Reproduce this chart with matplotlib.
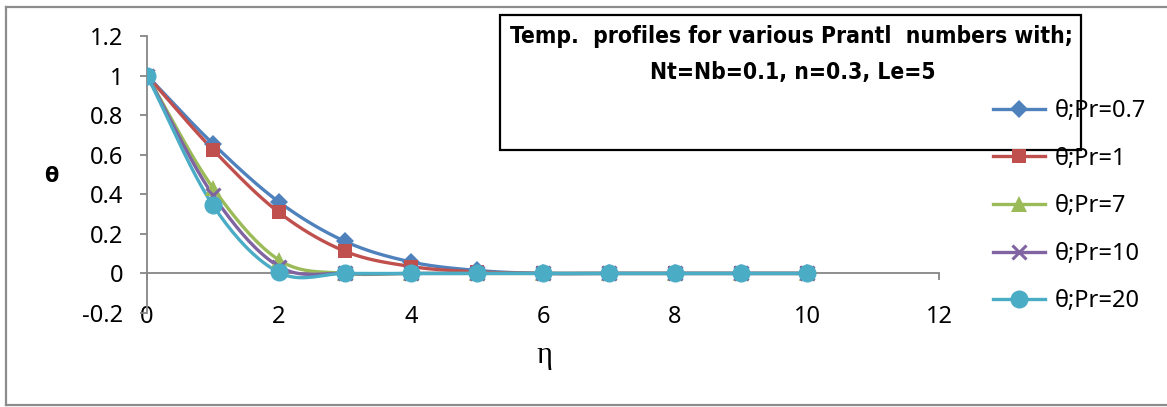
import numpy as np
import matplotlib
matplotlib.use("Agg")
import matplotlib.pyplot as plt
from matplotlib.patches import Rectangle
from matplotlib.lines import Line2D

# ---- data ----
eta = [0, 1, 2, 3, 4, 5, 6, 7, 8, 9, 10]
theta_pr07 = [1.0, 0.655, 0.361, 0.162, 0.058, 0.015, 0.0, 0.0, 0.0, 0.0, 0.0]
theta_pr1 = [1.0, 0.625, 0.308, 0.112, 0.035, 0.008, 0.0, 0.0, 0.0, 0.0, 0.0]
theta_pr7 = [1.0, 0.432, 0.068, 0.0, 0.0, 0.0, 0.0, 0.0, 0.0, 0.0, 0.0]
theta_pr10 = [1.0, 0.395, 0.035, 0.0, 0.0, 0.0, 0.0, 0.0, 0.0, 0.0, 0.0]
theta_pr20 = [1.0, 0.344, 0.005, 0.0, 0.0, 0.0, 0.0, 0.0, 0.0, 0.0, 0.0]
series_labels = ["θ;Pr=0.7", "θ;Pr=1", "θ;Pr=7", "θ;Pr=10", "θ;Pr=20"]
x_ticks = [0, 2, 4, 6, 8, 10, 12]
y_ticks = [-0.2, 0, 0.2, 0.4, 0.6, 0.8, 1.0, 1.2]
y_ticklabels = ["-0.2", "0", "0.2", "0.4", "0.6", "0.8", "1", "1.2"]
title_lines = ["Temp.  profiles for various Prantl  numbers with;",
               "Nt=Nb=0.1, n=0.3, Le=5"]

colors = ["#4F81BD", "#C0504D", "#9BBB59", "#8064A2", "#4BACC6"]
markers = ["D", "s", "^", "x", "o"]
msizes = [9.5, 10, 11, 10, 13]


def smooth(x, y, n=20):
    """Excel-style smoothed line (Catmull-Rom through the data points)."""
    x = np.asarray(x, float)
    y = np.asarray(y, float)
    px = np.concatenate([[2 * x[0] - x[1]], x, [2 * x[-1] - x[-2]]])
    py = np.concatenate([[2 * y[0] - y[1]], y, [2 * y[-1] - y[-2]]])
    xs, ys = [], []
    t = np.linspace(0, 1, n, endpoint=False)
    for i in range(1, len(px) - 2):
        for arr, out in ((px, xs), (py, ys)):
            p0, p1, p2, p3 = arr[i - 1], arr[i], arr[i + 1], arr[i + 2]
            m1 = (p2 - p0) / 2
            m2 = (p3 - p1) / 2
            h00 = 2 * t**3 - 3 * t**2 + 1
            h10 = t**3 - 2 * t**2 + t
            h01 = -2 * t**3 + 3 * t**2
            h11 = t**3 - t**2
            out.extend(h00 * p1 + h10 * m1 + h01 * p2 + h11 * m2)
    xs.append(x[-1])
    ys.append(y[-1])
    return np.array(xs), np.array(ys)


plt.rcParams['font.family'] = ['Noto Sans', 'DejaVu Sans']

W, H = 1167, 407
fig = plt.figure(figsize=(W / 100, H / 100), dpi=100)
ax = fig.add_axes([147 / W, 1 - 313 / H, (939 - 147) / W, (313 - 36) / H])

all_series = [theta_pr07, theta_pr1, theta_pr7, theta_pr10, theta_pr20]
handles = []
for ys, c, m, ms, lab in zip(all_series, colors, markers, msizes, series_labels):
    sx, sy = smooth(eta, ys)
    ax.plot(sx, sy, color=c, lw=2.4, solid_capstyle='round', zorder=3)
    mew = 2.2 if m == 'x' else 0
    ax.plot(eta, ys, linestyle='none', marker=m, markersize=ms, color=c,
            markeredgecolor=c, markeredgewidth=mew, zorder=4)
    handles.append(Line2D([], [], color=c, lw=2.4, marker=m, markersize=ms,
                          markeredgecolor=c, markeredgewidth=mew, label=lab))

ax.set_xlim(0, 12)
ax.set_ylim(-0.2, 1.2)
axis_gray = "#868686"
for s in ['top', 'right']:
    ax.spines[s].set_visible(False)
ax.spines['left'].set_color(axis_gray)
ax.spines['left'].set_linewidth(1.3)
ax.spines['bottom'].set_position(('data', 0))
ax.spines['bottom'].set_color(axis_gray)
ax.spines['bottom'].set_linewidth(1.3)
ax.set_xticks(x_ticks)
ax.set_xticklabels([str(v) for v in x_ticks])
ax.set_yticks(y_ticks)
ax.set_yticklabels(y_ticklabels)
ax.tick_params(axis='both', direction='out', length=5, width=1.3, color=axis_gray,
               labelsize=17, labelcolor='black')
ax.tick_params(axis='x', pad=18)
ax.tick_params(axis='y', pad=12)

ax.set_xlabel("η", family=['Liberation Serif', 'DejaVu Serif'], fontsize=22,
              va='center')
ax.xaxis.set_label_coords((544 - 147) / (939 - 147), -(356 - 313) / (313 - 36))
ax.set_ylabel("θ", fontsize=15, fontweight='bold', rotation=0, va='center',
              ha='center', family=['DejaVu Sans'])
ax.yaxis.set_label_coords((51 - 147) / (939 - 147), (313 - 176) / (313 - 36))

# legend
fig.legend(handles=handles, loc='upper left',
           bbox_to_anchor=(993 / W, 1 - 99 / H), frameon=False, fontsize=17,
           handlelength=2.2, handletextpad=0.4, labelspacing=1.0,
           borderpad=0, borderaxespad=0)

# title box
fig.patches.append(Rectangle((500 / W, 1 - 150 / H), (1081 - 500) / W, (150 - 15) / H,
                             transform=fig.transFigure, fill=False,
                             edgecolor='black', linewidth=1.6, zorder=1))
tfam = ['DejaVu Sans']
fig.text(791 / W, 1 - 37 / H, title_lines[0], ha='center', va='center',
         fontsize=16.4, fontweight='bold', fontstretch='condensed', family=tfam)
fig.text(793 / W, 1 - 72 / H, title_lines[1], ha='center', va='center',
         fontsize=16.4, fontweight='bold', fontstretch='condensed', family=tfam)

# outer chart frame (left, top, bottom)
frame_gray = "#8C8C8C"
fig.add_artist(Line2D([6 / W, 6 / W], [1 - 7 / H, 1 - 405 / H], color=frame_gray,
                      lw=1.6, transform=fig.transFigure))
fig.add_artist(Line2D([6 / W, 1.0], [1 - 7 / H, 1 - 7 / H], color=frame_gray,
                      lw=1.6, transform=fig.transFigure))
fig.add_artist(Line2D([6 / W, 1.0], [1 - 405 / H, 1 - 405 / H], color=frame_gray,
                      lw=1.6, transform=fig.transFigure))

fig.savefig("out.png", dpi=100)
